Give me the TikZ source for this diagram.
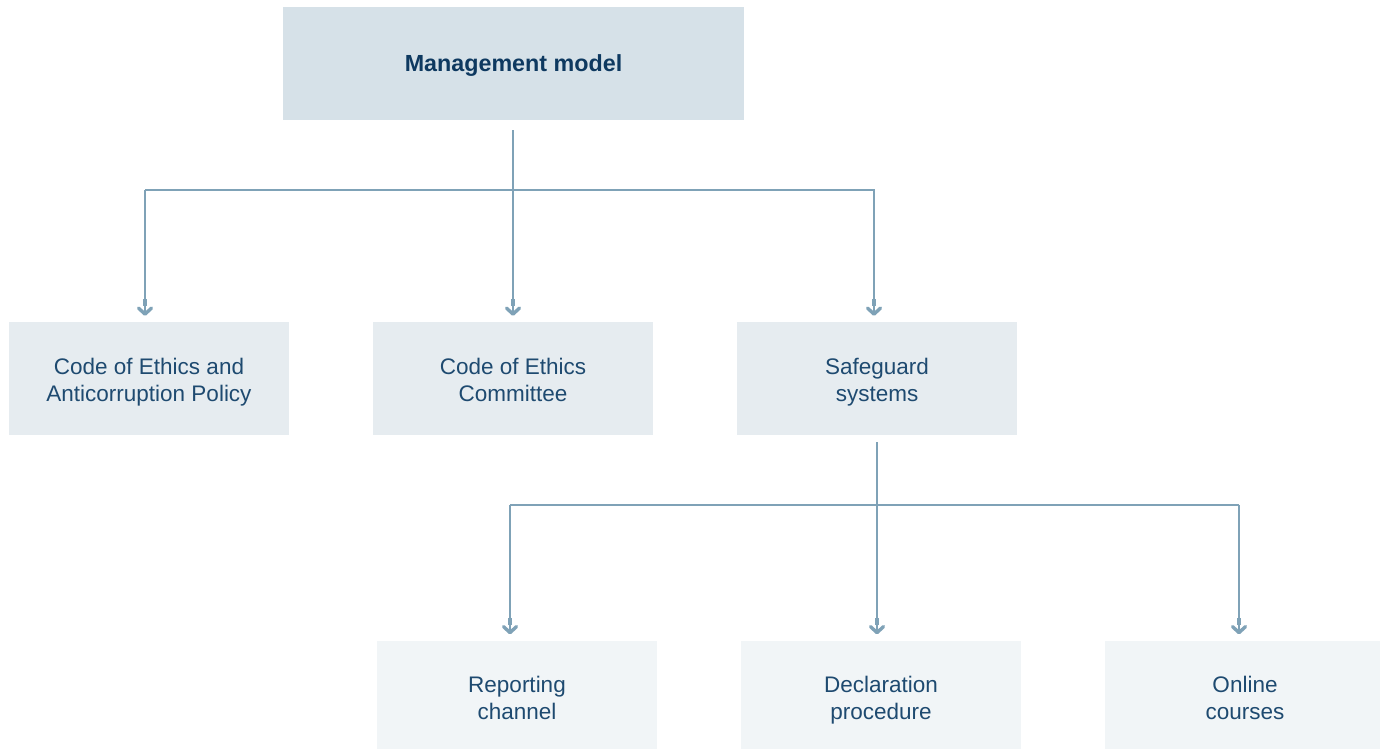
\documentclass[tikz,border=0pt]{standalone}
\usepackage{fontspec}
\setmainfont{Liberation Sans}
\usetikzlibrary{arrows.meta}
\definecolor{topfill}{HTML}{D6E1E8}
\definecolor{midfill}{HTML}{E6ECF0}
\definecolor{lowfill}{HTML}{F1F5F7}
\definecolor{linec}{HTML}{7FA2B7}
\definecolor{txt}{HTML}{1E4A70}
\definecolor{ttl}{HTML}{0E3960}
\newcommand\tls{\rule{0pt}{24pt}}
\newcommand\bls{\rule[-6pt]{0pt}{6pt}}
\newcommand\ttls{\rule[-5pt]{0pt}{26.5pt}}
\tikzset{
  box/.style={draw=none, minimum width=280pt, minimum height=113pt, inner sep=0pt,
    align=center, text=txt, font=\fontsize{22.5}{27}\selectfont},
  topbox/.style={box, fill=topfill, minimum width=461pt, text=ttl, font=\fontsize{23.3}{27}\selectfont\bfseries},
  midbox/.style={box, fill=midfill},
  lowbox/.style={box, fill=lowfill},
  conn/.style={draw=linec, line width=1.3pt},
  arr/.style={conn, -{Rectangle[width=3.6pt,length=7pt]Straight Barb[width=13pt,length=6pt,line width=3.4pt,round]}}
}
\begin{document}
\begin{tikzpicture}[x=1pt,y=-1pt]
\useasboundingbox (0,0) rectangle (1380,748);
\clip (0,0) rectangle (1380,748);
\fill[white] (0,0) rectangle (1380,748);
\node[topbox] (mm) at (513.5,63.5) {\ttls Management model};
\node[midbox] (b1) at (149,378.5) {\tls Code of Ethics and\\Anticorruption Policy\bls};
\node[midbox] (b2) at (513,378.5) {\tls Code of Ethics\\Committee\bls};
\node[midbox] (b3) at (877,378.5) {\tls Safeguard\\systems\bls};
\node[lowbox] (c1) at (517,697) {\tls Reporting\\channel\bls};
\node[lowbox] (c2) at (881,697) {\tls Declaration\\procedure\bls};
\node[lowbox] (c3) at (1245,697) {\tls Online\\courses\bls};
\coordinate (j1) at (513,190);
\coordinate (j2) at (877,505);
% level 1 -> 2
\draw[arr] ([xshift=-0.5pt,yshift=-10pt]mm.south) -- ([yshift=6pt]b2.north);
\draw[arr] ([xshift=-4pt]j1 -| b1.north) |- (j1) -| ([xshift=-3pt,yshift=6pt]b3.north);
\draw[arr] ([xshift=-4pt]j1 -| b1.north) -- ([xshift=-4pt,yshift=6pt]b1.north);
% level 2 -> 3
\draw[arr] ([yshift=-7pt]b3.south) -- ([xshift=-4pt,yshift=6pt]c2.north);
\draw[conn] ([xshift=-7pt]j2 -| c1.north) -- ([xshift=-6pt]j2 -| c3.north);
\draw[arr] ([xshift=-7pt]j2 -| c1.north) -- ([xshift=-7pt,yshift=6pt]c1.north);
\draw[arr] ([xshift=-6pt]j2 -| c3.north) -- ([xshift=-6pt,yshift=6pt]c3.north);
\end{tikzpicture}
\end{document}
